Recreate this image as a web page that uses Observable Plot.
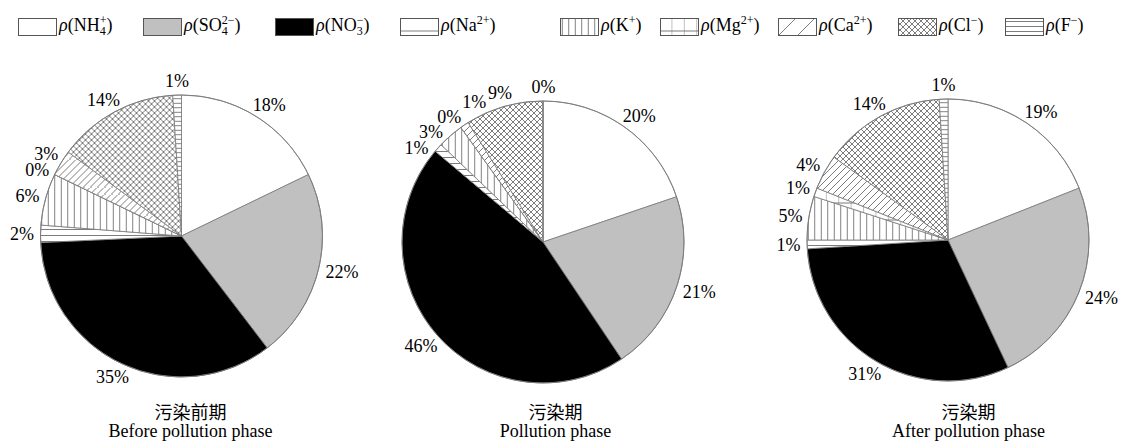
<!DOCTYPE html>
<html>
<head>
<meta charset="utf-8">
<script src="https://cdn.jsdelivr.net/npm/d3@7"></script>
<script src="https://cdn.jsdelivr.net/npm/@observablehq/plot@0.6"></script>
<style>
  html, body { margin: 0; padding: 0; background: #fff; }
</style>
</head>
<body>
<div id="chart"></div>
<script>
// Ion species, in slice order (clockwise from 12 o'clock)
const ions    = ["NH4+", "SO42-", "NO3-", "Na2+", "K+", "Mg2+", "Ca2+", "Cl-", "F-"];
const ionBase = ["NH", "SO", "NO", "Na", "K", "Mg", "Ca", "Cl", "F"];
const ionSub  = ["4", "4", "3", "", "", "", "", "", ""];
const ionSup  = ["+", "2−", "−", "2+", "+", "2+", "2+", "−", "−"];

// Phase captions
const phasesZh = ["污染前期", "污染期", "污染期"];
const phasesEn = ["Before pollution phase", "Pollution phase", "After pollution phase"];

// Mass fraction (%) of each ion in each phase
const beforeShares    = [18, 22, 35, 2, 6, 0, 3, 14, 1];
const pollutionShares = [20, 21, 46, 1, 3, 0, 1, 9, 0];
const afterShares     = [19, 24, 31, 1, 5, 1, 4, 14, 1];

// ---- layout -------------------------------------------------------------
const W = 1136, H = 442;
const panels = [
  { cx: 181.5, cy: 236, r: 141, capX: 190 },
  { cx: 543,   cy: 242, r: 141, capX: 555 },
  { cx: 948,   cy: 240, r: 141, capX: 968 }
];
const legendX = [18, 143, 275, 400, 560, 660, 778, 898, 1005];
const legendTop = 18, legendW = 38, legendH = 17, legendBaseline = 31;

const SERIF = "'Liberation Serif', 'Times New Roman', serif";
const CJK = "'Noto Sans CJK SC', sans-serif";
const EDGE = "#7a7a7a";
const HATCH = "#6e6e6e";

const ionFill = ["#ffffff", "#c0c0c0", "#000000",
  "url(#pat-na)", "url(#pat-k)", "url(#pat-mg)", "url(#pat-ca)", "url(#pat-cl)", "url(#pat-f)"];
const legendFill = ["#ffffff", "#c0c0c0", "#000000",
  "url(#lg-na)", "url(#pat-k)", "url(#pat-mg)", "url(#lg-ca)", "url(#pat-cl)", "url(#lg-f)"];

// hatch pattern tiles
const patternSpecs = [
  { id: "pat-na", w: 10, h: 6,    d: "M0,5.5H10" },
  { id: "pat-k",  w: 6.5, h: 10,  d: "M3.25,0V10" },
  { id: "pat-mg", w: 12.4, h: 17, x: 660, y: 18, d: "M12.4,0V17M0,13H12.4" },
  { id: "pat-ca", w: 7, h: 7,     d: "M0,7L7,0M-1,1L1,-1M6,8L8,6" },
  { id: "pat-cl", w: 6, h: 6,     d: "M0,0L6,6M6,0L0,6M-1,1L1,-1M5,7L7,5M-1,5L1,7M5,-1L7,1" },
  { id: "pat-f",  w: 10, h: 4.5,  d: "M0,2.25H10" },
  { id: "lg-na",  w: 40, h: 17, x: 0, y: 18, d: "M0,13H40" },
  { id: "lg-ca",  w: 19, h: 19, x: 0, y: 16, d: "M0,19L19,0M-2,2L2,-2M17,21L21,17" },
  { id: "lg-f",   w: 40, h: 5,  x: 0, y: 19, d: "M0,2.5H40" }
];

function defsMark() {
  return () => {
    const g = d3.create("svg:g");
    const defs = g.append("defs");
    for (const p of patternSpecs) {
      const pat = defs.append("pattern")
        .attr("id", p.id)
        .attr("patternUnits", "userSpaceOnUse")
        .attr("x", p.x ?? 0).attr("y", p.y ?? 0)
        .attr("width", p.w).attr("height", p.h);
      pat.append("rect").attr("width", p.w).attr("height", p.h).attr("fill", "#fff");
      pat.append("path").attr("d", p.d).attr("stroke", HATCH).attr("stroke-width", 0.9).attr("fill", "none");
    }
    return g.node();
  };
}

// Pie slices drawn with d3.pie/d3.arc, positioned through Plot's x/y scales
function pieMark(shares, p) {
  return (index, { x, y }) => {
    const cx = x(p.cx), cy = y(p.cy), r = x(p.cx + p.r) - x(p.cx);
    const arcs = d3.pie().sort(null).value(d => d)(shares);
    const arc = d3.arc().innerRadius(0).outerRadius(r);
    const g = d3.create("svg:g").attr("transform", `translate(${cx},${cy})`);
    g.selectAll("path").data(arcs).join("path")
      .attr("d", arc)
      .attr("fill", (d, i) => ionFill[i])
      .attr("stroke", EDGE)
      .attr("stroke-width", 0.8)
      .attr("stroke-linejoin", "round");
    g.append("circle").attr("r", r).attr("fill", "none").attr("stroke", EDGE).attr("stroke-width", 0.9);
    return g.node();
  };
}

// Percentage labels just outside each slice, spread apart when they collide
function placeLabels(shares, p, k) {
  const arcs = d3.pie().sort(null).value(d => d)(shares);
  const fs = 18, gap = 7, h = 15;
  const items = arcs.map((a, i) => ({
    panel: k, ion: ions[i], value: shares[i],
    a: (a.startAngle + a.endAngle) / 2,
    w: fs * (0.5 * String(shares[i]).length + 0.833)
  }));
  const pos = it => {
    const s = Math.sin(it.a), c = Math.cos(it.a), R = p.r + gap;
    return [p.cx + R * s + (it.w / 2) * s, p.cy - R * c - (h / 2) * c];
  };
  for (let iter = 0; iter < 400; iter++) {
    let moved = false;
    for (let i = 0; i < items.length - 1; i++) {
      const A = items[i], B = items[i + 1];
      const [ax, ay] = pos(A), [bx, by] = pos(B);
      if (Math.abs(ax - bx) < (A.w + B.w) / 2 + 1 && Math.abs(ay - by) < h) {
        A.a -= 0.004; B.a += 0.004; moved = true;
      }
    }
    if (!moved) break;
  }
  return items.map(it => { const [lx, ly] = pos(it); return { ...it, lx, ly }; });
}

const shareSets = [beforeShares, pollutionShares, afterShares];
const labelRows = shareSets.flatMap((s, k) => placeLabels(s, panels[k], k));
const captionRows = panels.map((p, k) => ({ x: p.capX, zh: phasesZh[k], en: phasesEn[k] }));

// Legend: swatches plus ρ(ion) labels with stacked sub/superscripts
function legendMark() {
  return (index, { x, y }) => {
    const g = d3.create("svg:g");
    ions.forEach((ion, i) => {
      const bx = x(legendX[i]), by = y(legendTop);
      const bw = x(legendX[i] + legendW) - bx, bh = y(legendTop + legendH) - by;
      g.append("rect")
        .attr("x", bx + 0.5).attr("y", by + 0.5)
        .attr("width", bw).attr("height", bh)
        .attr("fill", legendFill[i])
        .attr("stroke", "#555").attr("stroke-width", 1);
      const t = g.append("text")
        .attr("x", bx + bw + 3).attr("y", y(legendBaseline))
        .attr("text-anchor", "start")
        .attr("font-family", SERIF).attr("font-size", 18).attr("fill", "#000");
      t.append("tspan").attr("font-style", "italic").text("ρ");
      t.append("tspan").text("(" + ionBase[i]);
      if (ionSub[i]) {
        t.append("tspan").attr("font-size", 12).attr("dy", 4).text(ionSub[i]);
        t.append("tspan").attr("font-size", 12).attr("dx", -6 * ionSub[i].length).attr("dy", -11).text(ionSup[i]);
        t.append("tspan").attr("dy", 7).text(")");
      } else {
        t.append("tspan").attr("font-size", 12).attr("dy", -7).text(ionSup[i]);
        t.append("tspan").attr("dy", 7).text(")");
      }
    });
    return g.node();
  };
}

const chart = Plot.plot({
  width: W,
  height: H,
  margin: 0,
  style: { background: "#fff" },
  x: { domain: [0, W], range: [0, W], axis: null },
  y: { domain: [0, H], range: [0, H], axis: null },
  marks: [
    defsMark(),
    ...shareSets.map((s, k) => pieMark(s, panels[k])),
    Plot.text(labelRows, {
      x: "lx", y: "ly", text: d => `${d.value}%`,
      fontSize: 18, fontFamily: SERIF, fill: "#000",
      textAnchor: "middle", lineAnchor: "middle"
    }),
    Plot.text(captionRows, {
      x: "x", y: () => 413, text: "zh",
      fontSize: 18, fontFamily: CJK, fill: "#000",
      textAnchor: "middle", lineAnchor: "middle"
    }),
    Plot.text(captionRows, {
      x: "x", y: () => 431, text: "en",
      fontSize: 18, fontFamily: SERIF, fill: "#000",
      textAnchor: "middle", lineAnchor: "middle"
    }),
    legendMark()
  ]
});

document.getElementById("chart").appendChild(chart);
</script>
</body>
</html>
